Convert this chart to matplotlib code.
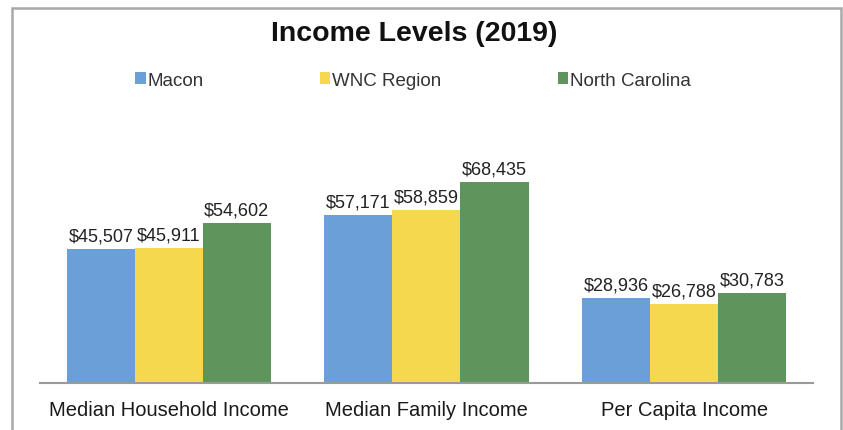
import numpy as np
import matplotlib.pyplot as plt
from matplotlib.patches import Rectangle

plt.rcParams['font.family'] = ['Liberation Sans', 'DejaVu Sans']

# 数据
categories = ['Median Household Income', 'Median Family Income', 'Per Capita Income']
series_names = ['Macon', 'WNC Region', 'North Carolina']
macon = [45507, 57171, 28936]
wnc = [45911, 58859, 26788]
nc = [54602, 68435, 30783]
colors = ['#6a9fd8', '#f6d84e', '#5e955c']

fig = plt.figure(figsize=(8.43, 4.31), dpi=100)
ax = fig.add_axes([0.0474, 0.109, 0.917, 0.545])

x = np.arange(len(categories))
w = 0.264
for i, (vals, name, c) in enumerate(zip([macon, wnc, nc], series_names, colors)):
    pos = x + (i - 1) * w
    ax.bar(pos, vals, width=w, color=c, label=name)
    for px, v in zip(pos, vals):
        ax.text(px, v + 1500, '${:,}'.format(v), ha='center', va='bottom',
                fontsize=13, color='#222222')

ax.set_xlim(-0.5, 2.5)
ax.set_ylim(0, 80000)
ax.set_xticks(x)
ax.set_xticklabels(categories, fontsize=14.5, color='#1a1a1a')
ax.tick_params(axis='x', length=0, pad=12)
ax.set_yticks([])
for s in ['top', 'right', 'left']:
    ax.spines[s].set_visible(False)
ax.spines['bottom'].set_color('#9a9a9a')
ax.spines['bottom'].set_linewidth(1.5)

# 标题
fig.text(0.491, 0.922, 'Income Levels (2019)', ha='center', va='center',
         fontsize=20.5, fontweight='bold', color='#111111')

# 图例
leg = fig.legend(loc='center', bbox_to_anchor=(0.49, 0.812), ncol=3, frameon=False,
                 fontsize=13.5, handlelength=0.55, handleheight=0.55,
                 handletextpad=0.1, columnspacing=6.2)
for t in leg.get_texts():
    t.set_color('#333333')

# 外框
fig.patches.append(Rectangle((12 / 843, -0.05), 829 / 843, 1.05 - 9 / 431,
                             transform=fig.transFigure, fill=False,
                             edgecolor='#a8a8a8', linewidth=1.8))

fig.savefig('out.png', dpi=100)
